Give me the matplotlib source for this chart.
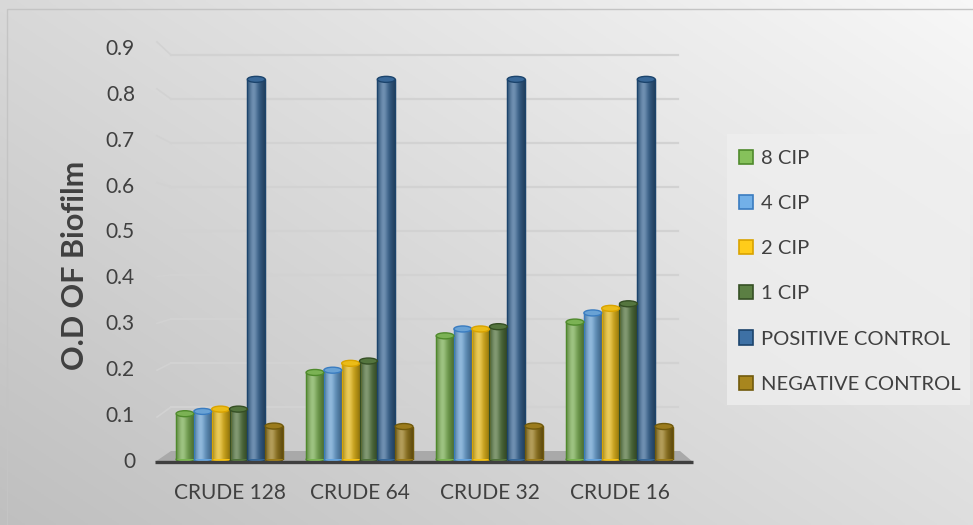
import numpy as np
import matplotlib
matplotlib.use("Agg")
import matplotlib.pyplot as plt
from matplotlib.patches import Ellipse, Polygon, Rectangle

plt.rcParams['font.family'] = ['Lato', 'DejaVu Sans']

# ---- data ----
categories = ["CRUDE 128", "CRUDE 64", "CRUDE 32", "CRUDE 16"]
series_names = ["8 CIP", "4 CIP", "2 CIP", "1 CIP", "POSITIVE CONTROL", "NEGATIVE CONTROL"]
cip8 = [0.10, 0.19, 0.27, 0.30]
cip4 = [0.105, 0.195, 0.285, 0.32]
cip2 = [0.11, 0.21, 0.285, 0.33]
cip1 = [0.11, 0.215, 0.29, 0.34]
positive_control = [0.83, 0.83, 0.83, 0.83]
negative_control = [0.073, 0.072, 0.073, 0.072]
yticks = [0, 0.1, 0.2, 0.3, 0.4, 0.5, 0.6, 0.7, 0.8, 0.9]

series_values = [cip8, cip4, cip2, cip1, positive_control, negative_control]
face_colors = ["#86C15B", "#72B0E8", "#FFCC1A", "#5B7F43", "#3E71A5", "#A8861E"]
edge_colors = ["#4F8A2C", "#3A7CC0", "#D9A300", "#354F24", "#1C446C", "#715A0C"]

W, H = 973, 525
fig = plt.figure(figsize=(W / 100, H / 100), dpi=100)

# ---- background gradient ----
bg = fig.add_axes([0, 0, 1, 1], zorder=-10)
xx, yy = np.meshgrid(np.linspace(0, 1, 400), np.linspace(0, 1, 220))
t = 0.55 * xx + 0.45 * (1 - yy)
shade = 0.75 + 0.22 * t
bg.imshow(np.dstack([shade, shade, shade]), extent=(0, W, H, 0), aspect='auto')
bg.add_patch(Rectangle((7, 9), W - 5, H - 5, fill=False, edgecolor="#C4C4C4", lw=1.0))
# legend panel
bg.add_patch(Rectangle((727, 134), 243, 271, facecolor="#EFEFEF", edgecolor="none", alpha=0.75))
bg.set_xlim(0, W)
bg.set_ylim(H, 0)
bg.axis('off')

# ---- main axes ----
SCALE = 458.0  # pixels per unit of O.D
ax_l, ax_r = 155, 693
ax_bottom, ax_top = 459.5, 24
ymax = (ax_bottom - ax_top) / SCALE
ax = fig.add_axes([ax_l / W, (H - ax_bottom) / H, (ax_r - ax_l) / W, (ax_bottom - ax_top) / H])
ax.set_facecolor("none")
px_per_cat = 130.0
c0 = 229.5
xlim = ((ax_l - c0) / px_per_cat, (ax_r - c0) / px_per_cat)
ax.set_xlim(*xlim)
ax.set_ylim(0, ymax)
for s in ax.spines.values():
    s.set_visible(False)


# back-wall gridlines and side-wall slants
def back(v):
    return (ax_bottom - 451 + 440 * v) / SCALE


x_wall_front = (157 - c0) / px_per_cat
x_wall_back = (171 - c0) / px_per_cat
x_wall_right = (678 - c0) / px_per_cat
grid_col = "#D2D2D2"
for v in yticks[1:]:
    yb = back(v)
    yf = yb - (13 - 28.9 * v) / SCALE
    ax.plot([x_wall_back, x_wall_right], [yb, yb], color=grid_col, lw=1.6, zorder=1)
    ax.plot([x_wall_front, x_wall_back], [yf, yb], color=grid_col, lw=1.2, zorder=1, clip_on=False)

# floor
floor_front = -2.5 / SCALE
ax.add_patch(Polygon([[xlim[0], floor_front], [x_wall_back, back(0)], [(680 - c0) / px_per_cat, back(0)],
                      [xlim[1], floor_front]], closed=True, facecolor="#A9A9A9", edgecolor="none",
                     zorder=1.5, clip_on=False))
ax.plot([xlim[0], xlim[1]], [floor_front, floor_front], color="#3F3F3F", lw=2.4, zorder=6, clip_on=False,
        solid_capstyle='butt')

# ---- cylinders ----
n = len(series_values)
bw = 17.8 / px_per_cat
x = np.arange(len(categories))
cap_h = 6.0 / SCALE


def cyl_gradient(color):
    base = np.array(matplotlib.colors.to_rgb(color))
    u = np.linspace(0, 1, 64)
    f = np.exp(-((u - 0.36) / 0.25) ** 2)
    edge = 1 - 0.3 * (np.abs(u - 0.4) / 0.6) ** 2
    rgb = base[None, :] * (0.8 + 0.12 * f)[:, None] * edge[:, None] + (1 - base[None, :]) * 0.28 * f[:, None]
    return np.clip(rgb, 0, 1)[None, :, :]


for k, (vals, fc, ec) in enumerate(zip(series_values, face_colors, edge_colors)):
    offs = x + (k - (n - 1) / 2) * bw
    bars = ax.bar(offs, vals, width=bw, color=fc, edgecolor=ec, linewidth=0.9, zorder=3,
                  label=series_names[k])
    grad = cyl_gradient(fc)
    for rect in bars:
        x0, w, h = rect.get_x(), rect.get_width(), rect.get_height()
        im = ax.imshow(grad, extent=(x0, x0 + w, 0, h), aspect='auto', zorder=3.2, interpolation='bilinear')
        im.set_clip_path(rect)
        ax.add_patch(Rectangle((x0, 0), w, h, fill=False, edgecolor=ec, lw=0.9, zorder=3.3))
        # rounded bottom
        ax.add_patch(Ellipse((x0 + w / 2, 0), w, cap_h * 0.8, facecolor=fc, edgecolor=ec, lw=0.9, zorder=2.9,
                             clip_on=False))
        # top cap
        top_col = tuple(np.clip(np.array(matplotlib.colors.to_rgb(fc)) * 0.92, 0, 1))
        ax.add_patch(Ellipse((x0 + w / 2, h), w, cap_h, facecolor=top_col, edgecolor=ec, lw=1.0, zorder=3.5))
ax.set_xlim(*xlim)
ax.set_ylim(0, ymax)

# ---- ticks & labels ----
text_col = "#404040"
ax.set_yticks(yticks)
ax.set_yticklabels([f"{v:g}" for v in yticks])
ax.set_xticks(x)
ax.set_xticklabels(categories)
ax.tick_params(axis='y', length=0, pad=14.4, labelsize=15, labelcolor=text_col)
ax.tick_params(axis='x', length=0, pad=17, labelsize=15, labelcolor=text_col)
fig.text(75 / W, 1 - 265 / H, "O.D OF Biofilm", rotation=90, ha='center', va='center',
         fontsize=22, fontweight='bold', color="#404040")

# ---- legend ----
handles = [Rectangle((0, 0), 1, 1, facecolor=fc, edgecolor=ec, lw=1.2)
           for fc, ec in zip(face_colors, edge_colors)]
leg = fig.legend(handles, series_names, loc='upper left', bbox_to_anchor=(729 / W, 1 - 140 / H),
                 frameon=False, fontsize=14.5, labelspacing=1.39, handlelength=0.7, handleheight=0.7,
                 handletextpad=0.4, borderpad=0)
for txt in leg.get_texts():
    txt.set_color(text_col)

fig.savefig("out.png", dpi=100)
